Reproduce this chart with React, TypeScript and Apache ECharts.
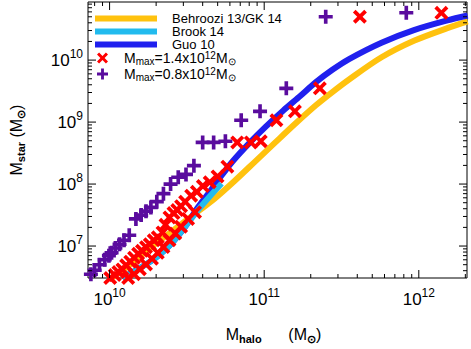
import React, { useEffect, useRef } from 'react';
import * as echarts from 'echarts';

const X_MIN = 7.25e9;
const X_MAX = 2.05e12;
const Y_MIN = 3.05e6;
const Y_MAX = 8.66e10;

const behroozi: number[][] = [
  [1.03e10, 3.05e6], [1.38e10, 5.2e6], [1.9e10, 1.0e7], [2.48e10, 1.66e7], [3.22e10, 2.74e7],
  [4.78e10, 5.83e7], [6.4e10, 1.11e8], [8.83e10, 2.37e8], [1.18e11, 4.7e8], [1.58e11, 9.3e8],
  [2.15e11, 1.85e9], [2.76e11, 3.05e9], [3.54e11, 4.87e9], [5.74e11, 1.11e10], [9.3e11, 2.05e10],
  [1.53e12, 3.28e10], [2.07e12, 4.2e10],
];

const brook: number[][] = [
  [1.21e10, 3.05e6], [1.48e10, 4.07e6], [1.79e10, 5.4e6], [2.14e10, 7.5e6], [2.59e10, 1.2e7],
  [3.08e10, 2.05e7], [3.73e10, 3.8e7], [4.44e10, 6.3e7], [5.3e10, 1.02e8],
];

const guo: number[][] = [
  [1.21e10, 3.05e6], [1.48e10, 4.07e6], [1.79e10, 5.4e6], [2.14e10, 7.5e6], [2.59e10, 1.2e7],
  [3.08e10, 2.05e7], [3.73e10, 4.22e7], [4.44e10, 7.5e7], [5.14e10, 1.24e8], [6.22e10, 2.29e8],
  [7.98e10, 4.53e8], [1.02e11, 8.36e8], [1.33e11, 1.54e9], [1.71e11, 2.64e9], [2.15e11, 4.37e9],
  [2.76e11, 6.98e9], [3.54e11, 1.04e10], [5.74e11, 1.91e10], [9.3e11, 3.05e10], [1.53e12, 4.37e10],
  [2.07e12, 5.24e10],
];

const mmax14: number[][] = [
  [1.01e10, 3.05e6], [1.08e10, 3.4e6], [1.14e10, 3.8e6], [1.21e10, 4.2e6], [1.28e10, 4.9e6],
  [1.36e10, 5.6e6], [1.44e10, 6.5e6], [1.53e10, 7.5e6], [1.62e10, 8.4e6], [1.72e10, 9.6e6],
  [1.82e10, 1.07e7], [1.93e10, 1.24e7], [2.05e10, 1.38e7], [2.2e10, 1.66e7], [2.3e10, 2.2e7],
  [2.44e10, 2.9e7], [2.59e10, 3.4e7], [2.74e10, 3.8e7], [2.9e10, 4.4e7], [3.08e10, 5.2e7],
  [3.37e10, 6.5e7], [3.67e10, 7.5e7], [4.01e10, 9.3e7], [4.44e10, 1.07e8], [4.99e10, 1.33e8],
  [5.78e10, 1.91e8], [6.69e10, 4.7e8], [8.2e10, 4.7e8], [9.5e10, 4.9e8], [1.2e11, 1.07e9],
  [1.58e11, 1.49e9], [2.29e11, 3.5e9], [4.16e11, 5.0e10], [1.4e12, 5.8e10],
  [1.32e10, 3.05e6], [1.44e10, 3.52e6], [1.57e10, 4.22e6], [1.72e10, 5.05e6], [1.88e10, 6.26e6],
  [2.05e10, 7.78e6], [2.23e10, 9.65e6], [2.44e10, 1.24e7], [2.66e10, 1.6e7], [2.9e10, 2.05e7],
  [3.22e10, 2.74e7], [3.57e10, 3.52e7],
];

const mmax08: number[][] = [
  [7.15e9, 3.16e6], [7.57e9, 3.5e6], [8.0e9, 4.07e6], [8.6e9, 5.0e6], [9.3e9, 6.0e6],
  [9.9e9, 7.0e6], [1.03e10, 7.8e6], [1.09e10, 9.3e6], [1.16e10, 1.07e7], [1.24e10, 1.24e7],
  [1.34e10, 1.49e7], [1.48e10, 2.74e7], [1.6e10, 3.16e7], [1.72e10, 3.65e7], [1.85e10, 4.2e7],
  [2.02e10, 5.2e7], [2.23e10, 7.0e7], [2.48e10, 1.0e8], [2.78e10, 1.29e8], [3.12e10, 1.43e8],
  [3.51e10, 1.98e8], [4.0e10, 4.7e8], [4.71e10, 4.7e8], [5.61e10, 4.9e8], [7.1e10, 1.07e9],
  [9.4e10, 1.49e9], [1.39e11, 3.5e9], [2.5e11, 5.0e10], [8.3e11, 5.8e10],
];

const lineNames = ['Behroozi 13/GK 14', 'Brook 14', 'Guo 10'];
const scatterNames = ['Mmax=1.4x10^12 Msun', 'Mmax=0.8x10^12 Msun'];
const scatterLabels: Record<string, string> = {
  'Mmax=1.4x10^12 Msun': '{gap|}{m|M}{sub|max}{m|=1.4x10}{sup|12}{m|M}{sub|⊙}',
  'Mmax=0.8x10^12 Msun': '{gap|}{m|M}{sub|max}{m|=0.8x10}{sup|12}{m|M}{sub|⊙}',
};

const X_EXPONENTS = [9, 10, 11, 12];
const Y_EXPONENTS = [6, 7, 8, 9, 10];

const FONT = 'Liberation Sans, Arial, sans-serif';

const X_SYMBOL = 'path://M0,1.9L1.9,0L5,3.1L8.1,0L10,1.9L6.9,5L10,8.1L8.1,10L5,6.9L1.9,10L0,8.1L3.1,5Z';
const PLUS_SYMBOL = 'path://M3.7,0H6.3V3.7H10V6.3H6.3V10H3.7V6.3H0V3.7H3.7Z';

function ticksFor(exps: number[], lo: number, hi: number) {
  const out: number[][] = [];
  exps.forEach((e) => {
    for (let k = 1; k <= 9; k++) {
      const v = k * Math.pow(10, e);
      if (v >= lo && v <= hi) out.push([v, k === 1 ? 1 : 0]);
    }
  });
  return out;
}

const powLabel = (v: number) => {
  const e = Math.log10(v);
  const r = Math.round(e);
  if (Math.abs(e - r) > 1e-6) return '';
  return `{b|10}{s|${r}}`;
};

const labelRich = {
  b: { fontSize: 17, lineHeight: 25, fontFamily: FONT, color: '#000' },
  s: { fontSize: 12, lineHeight: 12, verticalAlign: 'top', fontFamily: FONT, color: '#000' },
};

const nameRich = {
  m: { fontSize: 16, lineHeight: 20, fontFamily: FONT, color: '#000' },
  sub: { fontSize: 11, lineHeight: 11, fontWeight: 'bold', verticalAlign: 'bottom', fontFamily: FONT, color: '#000' },
};

export default function App() {
  const ref = useRef<HTMLDivElement>(null);
  useEffect(() => {
    if (!ref.current) return;
    const chart = echarts.init(ref.current, null, { renderer: 'svg' });
    const xTicks = ticksFor(X_EXPONENTS, X_MIN, X_MAX).map((t) => [t[0], Y_MIN, t[1]]);
    const yTicks = ticksFor(Y_EXPONENTS, Y_MIN, Y_MAX).map((t) => [X_MIN, t[0], t[1]]);

    const lineSeries = (name: string, data: number[][], color: string, z: number) => ({
      name,
      type: 'line',
      data,
      showSymbol: false,
      smooth: 0.3,
      color,
      lineStyle: { color, width: 6 },
      itemStyle: { color },
      z,
    });

    chart.setOption({
      animation: false,
      backgroundColor: '#fff',
      grid: { left: 81, right: 4, top: 2, bottom: 62, show: true, borderColor: '#000', borderWidth: 1 },
      xAxis: {
        type: 'log',
        min: X_MIN,
        max: X_MAX,
        axisLine: { show: false },
        axisTick: { show: false },
        splitLine: { show: false },
        axisLabel: { formatter: powLabel, rich: labelRich, margin: 9, showMinLabel: false, showMaxLabel: false },
        name: '{m|M}{sub|halo}{m|      (M}{sub|⊙}{m|)}',
        nameLocation: 'middle',
        nameGap: 46,
        nameTextStyle: { rich: nameRich, padding: [0, 8, 0, 0] },
      },
      yAxis: {
        type: 'log',
        min: Y_MIN,
        max: Y_MAX,
        axisLine: { show: false },
        axisTick: { show: false },
        splitLine: { show: false },
        axisLabel: { formatter: powLabel, rich: labelRich, margin: 5, showMinLabel: false, showMaxLabel: false },
        name: '{m|M}{sub|star}{m| (M}{sub|⊙}{m|)}',
        nameLocation: 'middle',
        nameGap: 62,
        nameTextStyle: { rich: nameRich },
      },
      legend: [
        {
          data: lineNames,
          orient: 'vertical',
          left: 90,
          top: 7,
          itemWidth: 62,
          itemHeight: 6,
          itemGap: 0,
          icon: 'rect',
          itemStyle: { borderWidth: 0 },
          textStyle: { fontSize: 13, lineHeight: 11, fontFamily: FONT, color: '#000', padding: [0, 0, 0, 10] },
          selectedMode: false,
        },
        {
          data: [
            { name: scatterNames[0], icon: X_SYMBOL },
            { name: scatterNames[1], icon: PLUS_SYMBOL },
          ],
          orient: 'vertical',
          left: 92,
          top: 45,
          itemWidth: 11,
          itemHeight: 11,
          itemGap: 0,
          itemStyle: { borderWidth: 0 },
          formatter: (n: string) => scatterLabels[n] || n,
          textStyle: {
            fontFamily: FONT,
            color: '#000',
            rich: {
              gap: { width: 11 },
              m: { fontSize: 14, lineHeight: 16, fontFamily: FONT, color: '#000' },
              sub: { fontSize: 10, lineHeight: 10, verticalAlign: 'bottom', fontFamily: FONT, color: '#000' },
              sup: { fontSize: 10, lineHeight: 10, verticalAlign: 'top', fontFamily: FONT, color: '#000' },
            },
          },
          selectedMode: false,
        },
      ],
      series: [
        lineSeries(lineNames[0], behroozi, '#FFC20E', 2),
        lineSeries(lineNames[2], guo, '#2020EE', 3),
        lineSeries(lineNames[1], brook, '#22BBEE', 4),
        {
          name: scatterNames[0],
          type: 'scatter',
          data: mmax14,
          symbol: X_SYMBOL,
          symbolSize: 14,
          itemStyle: { color: '#FF0000', opacity: 1 },
          z: 6,
        },
        {
          name: scatterNames[1],
          type: 'scatter',
          data: mmax08,
          symbol: PLUS_SYMBOL,
          symbolSize: 14,
          itemStyle: { color: '#5A0C9E', opacity: 1 },
          z: 5,
        },
        {
          type: 'custom',
          data: xTicks,
          z: 10,
          silent: true,
          renderItem: (params: any, api: any) => {
            const v = api.value(0);
            const len = api.value(2) ? 8 : 4;
            const b = api.coord([v, Y_MIN]);
            const t = api.coord([v, Y_MAX]);
            return {
              type: 'group',
              children: [
                { type: 'line', shape: { x1: b[0], y1: b[1], x2: b[0], y2: b[1] - len }, style: { stroke: '#000', lineWidth: 1 } },
                { type: 'line', shape: { x1: t[0], y1: t[1], x2: t[0], y2: t[1] + len }, style: { stroke: '#000', lineWidth: 1 } },
              ],
            };
          },
        },
        {
          type: 'custom',
          data: yTicks,
          z: 10,
          silent: true,
          renderItem: (params: any, api: any) => {
            const v = api.value(1);
            const len = api.value(2) ? 8 : 4;
            const l = api.coord([X_MIN, v]);
            const r = api.coord([X_MAX, v]);
            return {
              type: 'group',
              children: [
                { type: 'line', shape: { x1: l[0], y1: l[1], x2: l[0] + len, y2: l[1] }, style: { stroke: '#000', lineWidth: 1 } },
                { type: 'line', shape: { x1: r[0], y1: r[1], x2: r[0] - len, y2: r[1] }, style: { stroke: '#000', lineWidth: 1 } },
              ],
            };
          },
        },
      ],
    });
    return () => chart.dispose();
  }, []);
  return <div ref={ref} style={{ position: 'fixed', left: 0, top: 0, width: 471, height: 349 }} />;
}
